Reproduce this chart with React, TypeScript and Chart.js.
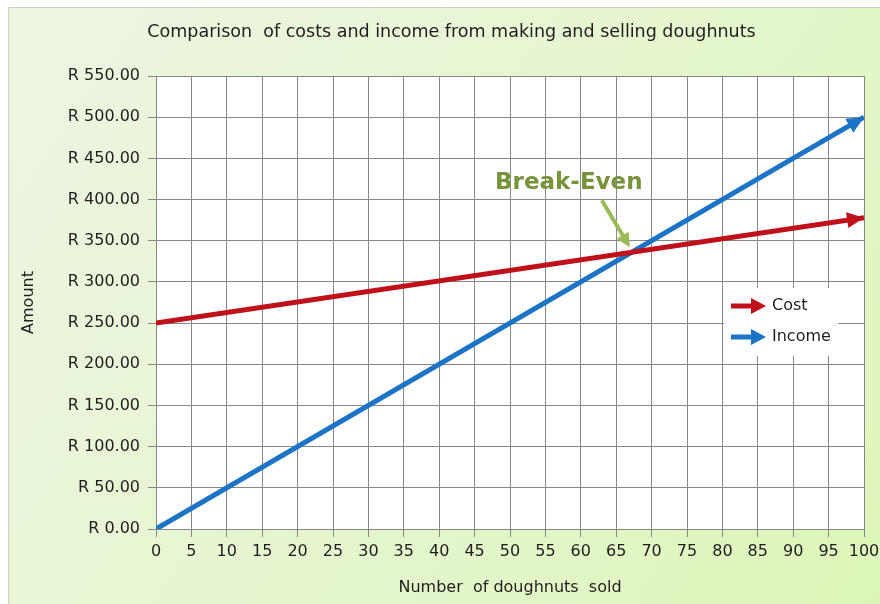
import React, { useEffect, useRef } from 'react';
import { Chart, registerables } from 'chart.js';

Chart.register(...registerables);

// ---- data ----
const xValues = [0, 100];
const costValues = [250, 378];
const incomeValues = [0, 500];
const seriesNames = ['Cost', 'Income'];
const seriesColors = ['#c0101a', '#1b74c5'];
const chartTitle = 'Comparison  of costs and income from making and selling doughnuts';
const xAxisTitle = 'Number  of doughnuts  sold';
const yAxisTitle = 'Amount';
const annotationText = 'Break-Even';
const currencyPrefix = 'R ';
const xMin = 0, xMax = 100, xStep = 5;
const yMin = 0, yMax = 550, yStep = 50;

const FONT = '"DejaVu Sans", "Liberation Sans", Arial, sans-serif';
const GRID = '#878787';
const TEXT = '#1e1e1e';

function arrowHead(ctx: CanvasRenderingContext2D, fx: number, fy: number, tx: number, ty: number, len: number, halfW: number, color: string) {
  const a = Math.atan2(ty - fy, tx - fx);
  const bx = tx - len * Math.cos(a);
  const by = ty - len * Math.sin(a);
  const px = -Math.sin(a) * halfW;
  const py = Math.cos(a) * halfW;
  ctx.beginPath();
  ctx.moveTo(tx, ty);
  ctx.lineTo(bx + px, by + py);
  ctx.lineTo(bx - px, by - py);
  ctx.closePath();
  ctx.fillStyle = color;
  ctx.fill();
}

const backgroundPlugin = {
  id: 'bgPanel',
  beforeDraw(chart: any) {
    const { ctx, width, height, chartArea } = chart;
    ctx.save();
    ctx.fillStyle = '#ffffff';
    ctx.fillRect(0, 0, width, height);
    const g = ctx.createLinearGradient(9, 8, width, height);
    g.addColorStop(0, '#edf5e2');
    g.addColorStop(0.5, '#e6f6d0');
    g.addColorStop(1, '#ddf6b8');
    ctx.fillStyle = g;
    ctx.fillRect(9, 8, width - 9, height - 8);
    ctx.strokeStyle = '#c9cfc2';
    ctx.lineWidth = 1;
    ctx.beginPath();
    ctx.moveTo(8.5, height);
    ctx.lineTo(8.5, 7.5);
    ctx.lineTo(width, 7.5);
    ctx.stroke();
    ctx.fillStyle = '#ffffff';
    ctx.fillRect(chartArea.left, chartArea.top, chartArea.right - chartArea.left, chartArea.bottom - chartArea.top);
    ctx.restore();
  },
};

const arrowEndsPlugin = {
  id: 'arrowEnds',
  afterDatasetsDraw(chart: any) {
    const ctx = chart.ctx;
    chart.data.datasets.forEach((ds: any, i: number) => {
      const meta = chart.getDatasetMeta(i);
      const pts = meta.data;
      if (pts.length < 2) return;
      const a = pts[pts.length - 2];
      const b = pts[pts.length - 1];
      ctx.save();
      arrowHead(ctx, a.x, a.y, b.x, b.y, 17, 8, ds.borderColor);
      ctx.restore();
    });
  },
};

const breakEvenPlugin = {
  id: 'breakEven',
  afterDatasetsDraw(chart: any) {
    const { ctx, scales } = chart;
    const x0 = xValues[0], x1 = xValues[xValues.length - 1];
    const c0 = costValues[0], c1 = costValues[costValues.length - 1];
    const i0 = incomeValues[0], i1 = incomeValues[incomeValues.length - 1];
    const t = (c0 - i0) / ((i1 - i0) - (c1 - c0));
    const bx = x0 + t * (x1 - x0);
    const by = c0 + t * (c1 - c0);
    const px = scales.x.getPixelForValue(bx);
    const py = scales.y.getPixelForValue(by);
    const tipX = px - 2, tipY = py - 5;
    const startX = tipX - 28, startY = tipY - 47;
    ctx.save();
    ctx.strokeStyle = '#9bbb59';
    ctx.lineWidth = 4;
    ctx.beginPath();
    ctx.moveTo(startX, startY);
    const ang = Math.atan2(tipY - startY, tipX - startX);
    ctx.lineTo(tipX - 12 * Math.cos(ang), tipY - 12 * Math.sin(ang));
    ctx.stroke();
    arrowHead(ctx, startX, startY, tipX, tipY, 14, 7, '#9bbb59');
    ctx.font = `bold 23px ${FONT}`;
    ctx.fillStyle = '#77933c';
    ctx.textAlign = 'center';
    ctx.textBaseline = 'middle';
    ctx.fillText(annotationText, tipX - 61, tipY - 64);
    ctx.restore();
  },
};

const legendPlugin = {
  id: 'insideLegend',
  afterDraw(chart: any) {
    const { ctx, chartArea } = chart;
    const bx = chartArea.right - 140;
    const by = chartArea.top + 212;
    ctx.save();
    ctx.fillStyle = '#ffffff';
    ctx.fillRect(bx, by, 114, 68);
    ctx.font = `16px ${FONT}`;
    ctx.textBaseline = 'middle';
    ctx.textAlign = 'left';
    chart.data.datasets.forEach((ds: any, i: number) => {
      const y = by + 18 + i * 31;
      const x0 = bx + 7;
      const x1 = bx + 42;
      ctx.strokeStyle = ds.borderColor;
      ctx.lineWidth = 5;
      ctx.beginPath();
      ctx.moveTo(x0, y);
      ctx.lineTo(x1 - 12, y);
      ctx.stroke();
      arrowHead(ctx, x0, y, x1, y, 15, 8, ds.borderColor);
      ctx.fillStyle = TEXT;
      ctx.fillText(ds.label, x1 + 6, y);
    });
    ctx.restore();
  },
};

export default function App() {
  const canvasRef = useRef<HTMLCanvasElement | null>(null);

  useEffect(() => {
    if (!canvasRef.current) return;
    const chart = new Chart(canvasRef.current, {
      type: 'line',
      data: {
        datasets: [
          {
            label: seriesNames[0],
            data: xValues.map((x, i) => ({ x, y: costValues[i] })),
            borderColor: seriesColors[0],
            backgroundColor: seriesColors[0],
            borderWidth: 5,
            pointRadius: 0,
            tension: 0,
          },
          {
            label: seriesNames[1],
            data: xValues.map((x, i) => ({ x, y: incomeValues[i] })),
            borderColor: seriesColors[1],
            backgroundColor: seriesColors[1],
            borderWidth: 5,
            pointRadius: 0,
            tension: 0,
          },
        ],
      },
      options: {
        responsive: false,
        animation: false,
        layout: { padding: { left: 39, right: 16, top: 0, bottom: 0 } },
        plugins: {
          legend: { display: false },
          tooltip: { enabled: false },
          title: {
            display: true,
            text: chartTitle,
            color: TEXT,
            font: { family: FONT, size: 17.5, weight: 'normal' },
            padding: { top: 21.5, bottom: 33.5 },
          },
        },
        scales: {
          x: {
            type: 'linear',
            min: xMin,
            max: xMax,
            afterFit(scale: any) { scale.height = 75; scale.paddingRight = 0; },
            ticks: { stepSize: xStep, color: TEXT, padding: 5, font: { family: FONT, size: 16 }, maxRotation: 0 },
            grid: { color: GRID, tickLength: 8, lineWidth: 1 },
            border: { color: GRID },
            title: { display: true, text: xAxisTitle, color: TEXT, font: { family: FONT, size: 16 }, padding: { top: 0, bottom: 7 } },
          },
          y: {
            type: 'linear',
            min: yMin,
            max: yMax,
            afterFit(scale: any) { scale.width = 117; },
            ticks: {
              stepSize: yStep,
              color: TEXT,
              padding: 8,
              font: { family: FONT, size: 16 },
              callback: (v: any) => currencyPrefix + Number(v).toFixed(2),
            },
            grid: { color: GRID, tickLength: 8, lineWidth: 1 },
            border: { color: GRID },
            title: { display: true, text: yAxisTitle, color: TEXT, font: { family: FONT, size: 16 }, padding: { top: -19.6, bottom: 0 } },
          },
        },
      },
      plugins: [backgroundPlugin, arrowEndsPlugin, breakEvenPlugin, legendPlugin],
    } as any);
    return () => chart.destroy();
  }, []);

  return (
    <div style={{ position: 'absolute', left: 0, top: 0, width: 880, height: 604 }}>
      <canvas ref={canvasRef} width={880} height={604} style={{ display: 'block' }} />
    </div>
  );
}
